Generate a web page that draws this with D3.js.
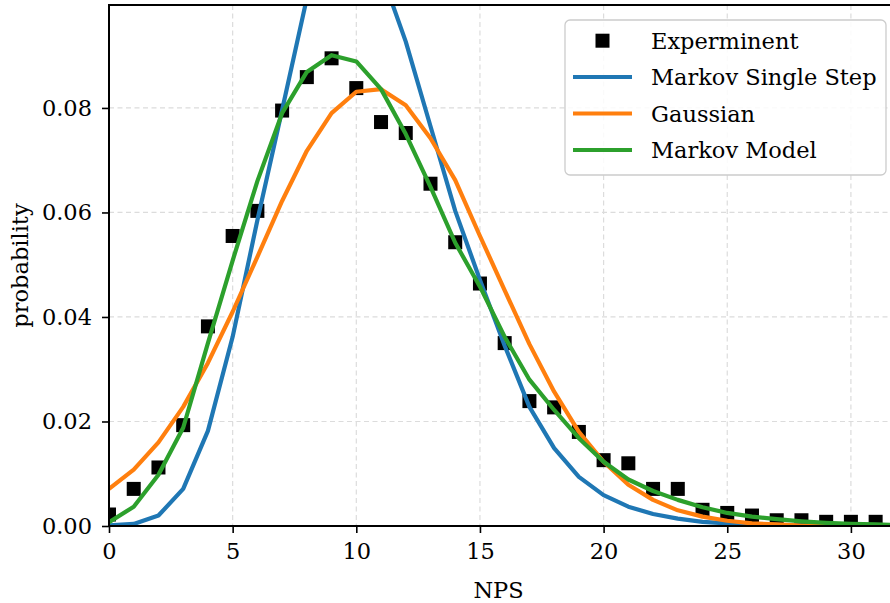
<!DOCTYPE html>
<html>
<head>
<meta charset="utf-8">
<script src="https://cdn.jsdelivr.net/npm/d3@7"></script>
<style>
  html, body { margin: 0; padding: 0; background: #fff; }
  svg { display: block; }
  text { font-family: "DejaVu Serif", serif; fill: #000; }
</style>
</head>
<body>
<svg id="chart" width="890" height="603"></svg>
<script>
// NPS values (number of particles per step)
const npsExp = d3.range(0, 32);
const npsModel = d3.range(0, 33);

// Measured distribution
const experiment = [0.0022, 0.0071, 0.0112, 0.0193, 0.0382, 0.0555, 0.0603, 0.0795,
  0.0859, 0.0895, 0.0838, 0.0773, 0.0752, 0.0655, 0.0543, 0.0464, 0.0350, 0.0239,
  0.0227, 0.0180, 0.0126, 0.0120, 0.0071, 0.0071, 0.0031, 0.0025, 0.0020, 0.0011,
  0.0011, 0.0008, 0.0008, 0.0008];

// Single-step Markov prediction
const markovSingle = [0.0001, 0.0004, 0.0020, 0.0071, 0.0182, 0.0362, 0.0585, 0.0796,
  0.1010, 0.1130, 0.1150, 0.1060, 0.0927, 0.0765, 0.0603, 0.0471, 0.0345, 0.0228,
  0.0149, 0.0094, 0.0059, 0.0037, 0.0023, 0.0014, 0.0008, 0.0005, 0.0003, 0.0002,
  0.0001, 0.0001, 0.0000, 0.0000, 0.0000];

// Gaussian fit
const gaussian = [0.0071, 0.0108, 0.0160, 0.0228, 0.0312, 0.0410, 0.0515, 0.0622,
  0.0718, 0.0790, 0.0831, 0.0836, 0.0805, 0.0742, 0.0662, 0.0555, 0.0451, 0.0348,
  0.0257, 0.0180, 0.0123, 0.0079, 0.0050, 0.0030, 0.0018, 0.0010, 0.0005, 0.0003,
  0.0001, 0.0001, 0.0000, 0.0000, 0.0000];

// Full Markov model
const markovModel = [0.0007, 0.0037, 0.0098, 0.0188, 0.0350, 0.0508, 0.0660, 0.0790,
  0.0869, 0.0901, 0.0889, 0.0836, 0.0750, 0.0649, 0.0542, 0.0458, 0.0362, 0.0280,
  0.0222, 0.0168, 0.0123, 0.0089, 0.0067, 0.0050, 0.0036, 0.0025, 0.0018, 0.0013,
  0.0009, 0.0006, 0.0004, 0.0003, 0.0002];

const xTicks = [0, 5, 10, 15, 20, 25, 30];
const yTicks = [0.00, 0.02, 0.04, 0.06, 0.08];

const seriesNames = ["Experminent", "Markov Single Step", "Gaussian", "Markov Model"];
const seriesColors = ["#000000", "#1f77b4", "#ff7f0e", "#2ca02c"];

const svg = d3.select("#chart");
const plot = { left: 109, right: 888, top: 5, bottom: 526 };

const x = d3.scaleLinear().domain([0, 31.5]).range([plot.left, plot.right]);
const y = d3.scaleLinear().domain([0, 0.0997]).range([plot.bottom, plot.top]);

const FONT = 22.5;
const SERIF = "DejaVu Serif, serif";

// Clip region for the data marks
svg.append("defs").append("clipPath").attr("id", "plotClip")
  .append("rect")
  .attr("x", plot.left).attr("y", plot.top)
  .attr("width", plot.right - plot.left + 2).attr("height", plot.bottom - plot.top);

// Grid
const grid = svg.append("g").attr("class", "grid");
grid.selectAll("line.vx").data(xTicks).join("line")
  .attr("x1", d => x(d)).attr("x2", d => x(d))
  .attr("y1", plot.top).attr("y2", plot.bottom)
  .attr("stroke", "#dcdcdc").attr("stroke-width", 1.2).attr("stroke-dasharray", "5,3.5");
grid.selectAll("line.hy").data(yTicks).join("line")
  .attr("x1", plot.left).attr("x2", plot.right + 2)
  .attr("y1", d => y(d)).attr("y2", d => y(d))
  .attr("stroke", "#dcdcdc").attr("stroke-width", 1.2).attr("stroke-dasharray", "5,3.5");

const data = svg.append("g").attr("clip-path", "url(#plotClip)");

// Experimental points
const sq = 14;
data.selectAll("rect.exp").data(experiment).join("rect")
  .attr("class", "exp")
  .attr("x", (d, i) => x(npsExp[i]) - sq / 2)
  .attr("y", d => y(d) - sq / 2)
  .attr("width", sq).attr("height", sq)
  .attr("fill", seriesColors[0]);

// Model curves
const line = d3.line().x((d, i) => x(npsModel[i])).y(d => y(d));
[markovSingle, gaussian, markovModel].forEach((vals, k) => {
  data.append("path")
    .datum(vals)
    .attr("d", line)
    .attr("fill", "none")
    .attr("stroke", seriesColors[k + 1])
    .attr("stroke-width", 4.2)
    .attr("stroke-linejoin", "round");
});

// Axes
const xAxis = d3.axisBottom(x).tickValues(xTicks).tickFormat(d3.format("d"))
  .tickSize(7).tickSizeOuter(0).tickPadding(10);
const gx = svg.append("g").attr("transform", `translate(0,${plot.bottom})`).call(xAxis);

const yAxis = d3.axisLeft(y).tickValues(yTicks).tickFormat(d3.format(".2f"))
  .tickSize(7).tickSizeOuter(0).tickPadding(10);
const gy = svg.append("g").attr("transform", `translate(${plot.left},0)`).call(yAxis);

[gx, gy].forEach(g => {
  g.attr("font-family", SERIF);
  g.select(".domain").remove();
  g.selectAll(".tick line").attr("stroke", "#000").attr("stroke-width", 1.6);
  g.selectAll(".tick text").attr("font-size", FONT)
    .attr("font-family", SERIF).attr("fill", "#000");
});

// Spines: left, bottom, top
svg.append("line").attr("x1", plot.left).attr("x2", plot.left)
  .attr("y1", plot.top).attr("y2", plot.bottom + 1)
  .attr("stroke", "#000").attr("stroke-width", 2);
svg.append("line").attr("x1", plot.left - 1).attr("x2", 890)
  .attr("y1", plot.bottom).attr("y2", plot.bottom)
  .attr("stroke", "#000").attr("stroke-width", 2);
svg.append("line").attr("x1", plot.left - 1).attr("x2", 890)
  .attr("y1", plot.top).attr("y2", plot.top)
  .attr("stroke", "#000").attr("stroke-width", 2);

// Axis titles
svg.append("text")
  .attr("x", (plot.left + plot.right) / 2).attr("y", 598)
  .attr("text-anchor", "middle").attr("font-size", FONT)
  .text("NPS");
svg.append("text")
  .attr("transform", `translate(28,${(plot.top + plot.bottom) / 2}) rotate(-90)`)
  .attr("text-anchor", "middle").attr("font-size", FONT)
  .text("probability");

// Legend
const legend = svg.append("g");
legend.append("rect")
  .attr("x", 565).attr("y", 20).attr("width", 321).attr("height", 155)
  .attr("rx", 5).attr("ry", 5)
  .attr("fill", "#fff").attr("fill-opacity", 0.85)
  .attr("stroke", "#cccccc").attr("stroke-width", 1.3);

const rowY = [40.7, 77, 113.5, 150];
seriesNames.forEach((name, i) => {
  const cy = rowY[i];
  if (i === 0) {
    legend.append("rect")
      .attr("x", 602.5 - sq / 2).attr("y", cy - sq / 2)
      .attr("width", sq).attr("height", sq)
      .attr("fill", seriesColors[0]);
  } else {
    legend.append("line")
      .attr("x1", 573).attr("x2", 632)
      .attr("y1", cy).attr("y2", cy)
      .attr("stroke", seriesColors[i]).attr("stroke-width", 4.2);
  }
  legend.append("text")
    .attr("x", 651).attr("y", cy + 8)
    .attr("font-size", FONT)
    .text(name);
});
</script>
</body>
</html>
